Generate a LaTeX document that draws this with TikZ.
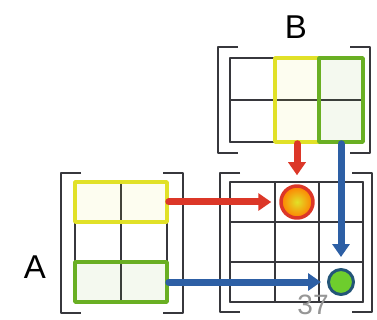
\documentclass[tikz,border=0pt]{standalone}
\usepackage{fontspec}
\setmainfont{Liberation Sans}
\usetikzlibrary{arrows.meta}
\definecolor{fg}{RGB}{55,55,60}
\definecolor{mu}{RGB}{150,150,150}
\definecolor{hly}{RGB}{225,225,40}
\definecolor{hlg}{RGB}{105,175,35}
\definecolor{red}{RGB}{220,55,40}
\definecolor{blue}{RGB}{45,95,165}
\definecolor{ring}{RGB}{35,85,120}
\definecolor{leaf}{RGB}{110,205,45}
\tikzset{
  every picture/.style={fg, line cap=round, line join=round},
  % Linientypen
  gridline/.style={fg, line width=1.8pt},
  brk/.style={fg, line width=2.8pt, line cap=butt},
  vec/.style={line width=7pt, -{Triangle[length=13pt,width=17pt]}},
  % Hervorhebungen
  hl/.style={draw=#1, line width=3.5pt, fill=#1, fill opacity=0.07, inner sep=0pt},
  % Ergebnispunkte
  dotr/.style={circle, draw=red, line width=3.5pt, inner color=hly, outer color=orange, minimum size=32pt, inner sep=0pt},
  dotg/.style={circle, draw=ring, line width=3pt, fill=leaf, minimum size=25pt, inner sep=0pt},
  lbl/.style={font=\fontsize{33}{33}\selectfont, text=black},
}
\begin{document}
\begin{tikzpicture}[x=1pt, y=-1pt]
  \useasboundingbox (0,0) rectangle (377,320);
  % Gitter A (3x2), B (2x3), C (3x3)
  \foreach \y in {182,222,262,302} \draw[gridline] (75,\y) -- (167,\y);
  \foreach \x in {75,121,167} \draw[gridline] (\x,182) -- (\x,302);
  \foreach \y in {58,100,142} \draw[gridline] (230,\y) -- (363,\y);
  \foreach \x in {230,275,319,363} \draw[gridline] (\x,58) -- (\x,142);
  \foreach \y in {182,222,262,302} \draw[gridline] (230,\y) -- (363,\y);
  \foreach \x in {230,275,319,363} \draw[gridline] (\x,182) -- (\x,302);
  % Klammern
  \draw[brk] (81,173) -- (61,173) -- (61,313) -- (81,313);
  \draw[brk] (163,173) -- (183,173) -- (183,313) -- (163,313);
  \draw[brk] (238,47) -- (218,47) -- (218,153) -- (238,153);
  \draw[brk] (350,47) -- (370,47) -- (370,153) -- (350,153);
  \draw[brk] (240,173) -- (220,173) -- (220,312) -- (240,312);
  \draw[brk] (352,173) -- (372,173) -- (372,312) -- (352,312);
  % Zeilen von A, Spalten von B
  \node[hl=hly, minimum width=92pt, minimum height=40pt] (a1) at (121,202) {};
  \node[hl=hlg, minimum width=92pt, minimum height=40pt] (a3) at (121,282) {};
  \node[hl=hly, minimum width=44pt, minimum height=84pt] (b2) at (297,100) {};
  \node[hl=hlg, minimum width=44pt, minimum height=84pt] (b3) at (341,100) {};
  % Eintraege von C
  \node[dotr] (c12) at (297,202) {};
  \node[dotg] (c33) at (341,282) {};
  % Pfeile
  \draw[vec, red, shorten >=8pt] (a1.east) -- (c12.west);
  \draw[vec, red, shorten >=9pt] (b2.south) -- (c12.north);
  \draw[vec, blue, shorten >=6pt] (a3.east) -- (c33.west);
  \draw[vec, blue, shorten >=11pt] (b3.south) -- (c33.north);
  % Beschriftung
  \node[lbl] (la) at (35,267) {A};
  \node[lbl] (lb) at (296,27) {B};
  \node[text=mu, font=\fontsize{28}{28}\selectfont] (pg) at (313,305) {37};
\end{tikzpicture}
\end{document}
